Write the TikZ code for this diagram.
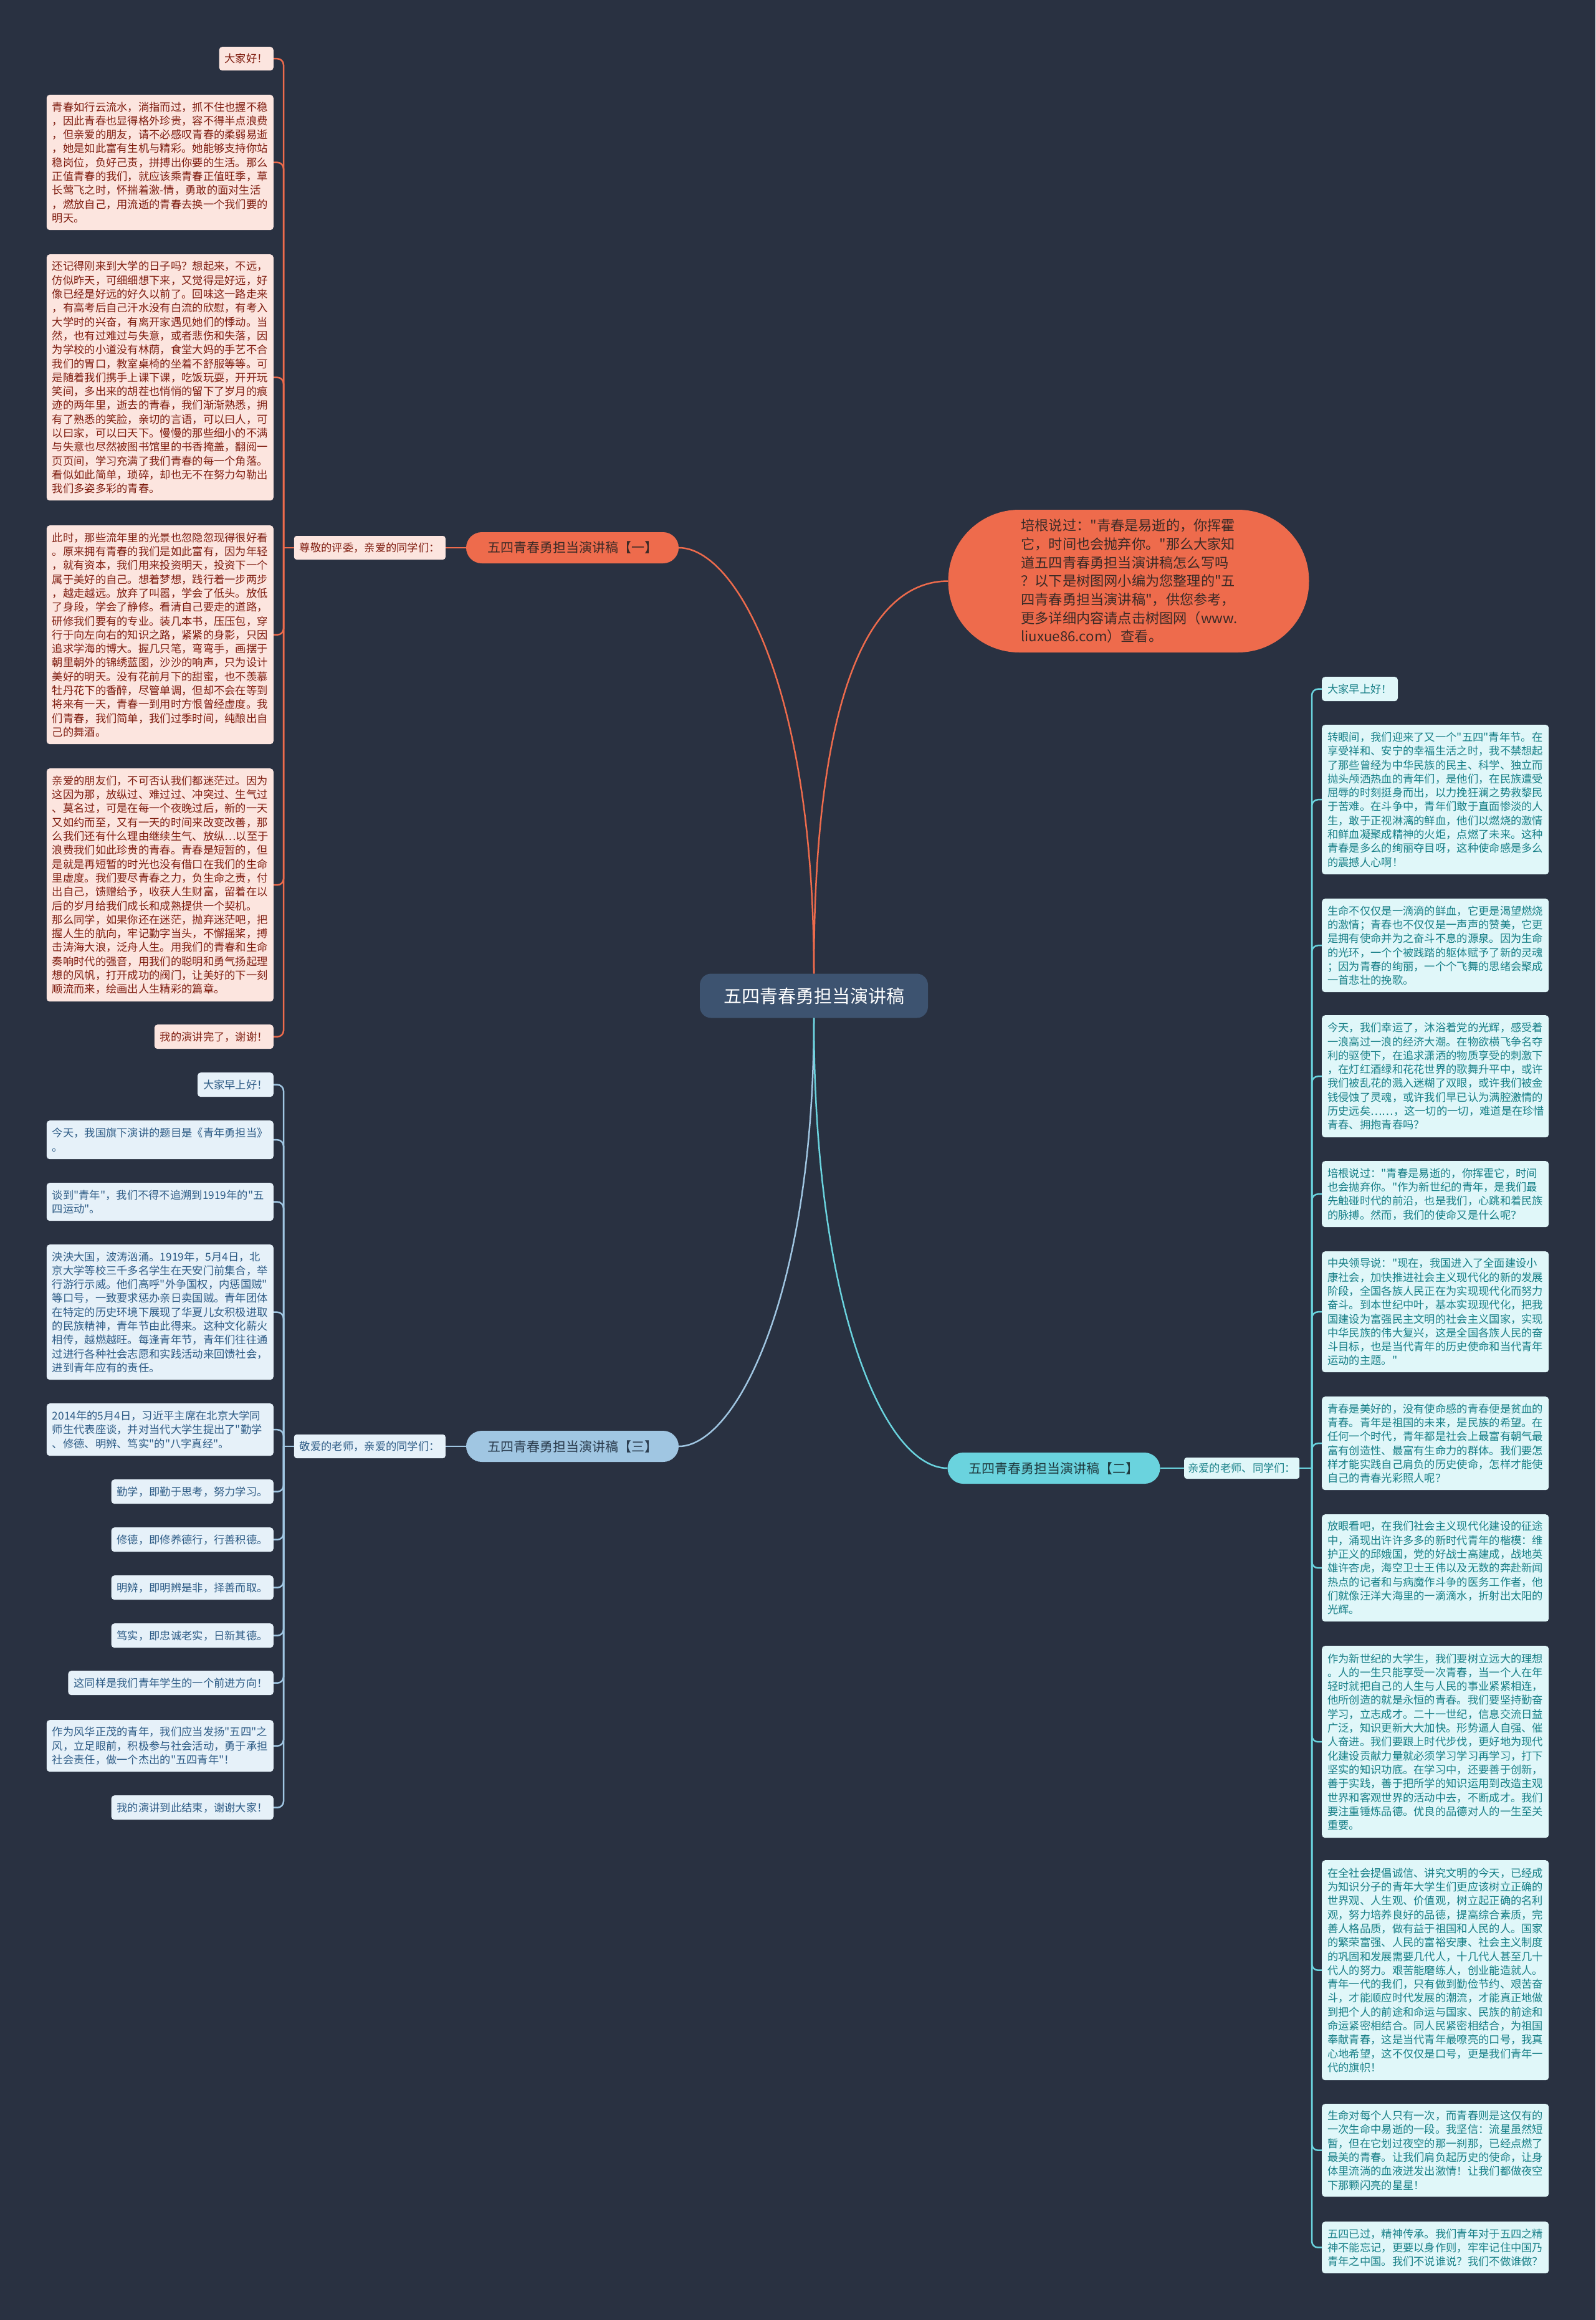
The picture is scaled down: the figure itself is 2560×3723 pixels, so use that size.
\documentclass[tikz,border=0pt]{standalone}
\usepackage{fontspec}
\newfontfamily\cjk{Noto Sans CJK SC}
\definecolor{bg}{HTML}{293141}
\definecolor{coral}{HTML}{EE6B4C}
\definecolor{coraltext}{HTML}{3B2A26}
\definecolor{pinkfill}{HTML}{FCE5DF}
\definecolor{pinktext}{HTML}{7F1D10}
\definecolor{bluebr}{HTML}{A0C6E2}
\definecolor{bluebrtext}{HTML}{2C3E50}
\definecolor{bluefill}{HTML}{E6F1F9}
\definecolor{bluetext}{HTML}{2E5C86}
\definecolor{cyanbr}{HTML}{6AD3DE}
\definecolor{cyanbrtext}{HTML}{1F3B40}
\definecolor{cyanfill}{HTML}{E0F7F9}
\definecolor{cyantext}{HTML}{177F87}
\definecolor{centerfill}{HTML}{3D5370}
\tikzset{
  basebox/.style={rounded corners=5pt, inner xsep=9pt, inner ysep=0pt, font=\cjk\fontsize{17.3}{22.3}\selectfont, align=left},
  lbox/.style={basebox, fill=pinkfill, text=pinktext},
  bbox/.style={basebox, fill=bluefill, text=bluetext},
  cbox/.style={basebox, fill=cyanfill, text=cyantext},
  widebox/.style={text width=346pt},
  branchnode/.style={rounded corners=25pt, minimum width=341pt, minimum height=50pt, inner sep=0pt, font=\cjk\fontsize{21}{25}\selectfont},
  lline/.style={draw=coral, line width=2.5pt},
  bline/.style={draw=bluebr, line width=2.5pt},
  cline/.style={draw=cyanbr, line width=2.5pt},
  elbow/.style={rounded corners=10pt}
}
\begin{document}
\begin{tikzpicture}[x=1pt,y=-1pt]
\fill[bg] (0,0) rectangle (2560,3723);
\useasboundingbox (0,0) rectangle (2560,3723);

% center
\node[fill=centerfill, text=white, rounded corners=18pt, minimum width=366pt, minimum height=71pt, inner sep=0pt, font=\cjk\fontsize{29}{34}\selectfont] (center) at (1306,1598) {五四青春勇担当演讲稿};

% bubble
\node[fill=coral, text=coraltext, rounded corners=114pt, minimum width=579pt, minimum height=229pt, inner sep=0pt, text width=345pt, align=left, font=\cjk\fontsize{22.2}{29.7}\selectfont] (bubble) at (1811,932.5) {培根说过："青春是易逝的，你挥霍\\它，时间也会抛弃你。"那么大家知\\道五四青春勇担当演讲稿怎么写吗\\？以下是树图网小编为您整理的"五\\四青春勇担当演讲稿"，供您参考，\\更多详细内容请点击树图网（www.\\liuxue86.com）查看。};

% ---------- branch 1 ----------
\node[branchnode, fill=coral, text=coraltext] (b1) at (918.5,879) {五四青春勇担当演讲稿【一】};
\node[lbox, anchor=east, minimum height=38pt, rounded corners=4pt] (lab1) at (715,879) {尊敬的评委，亲爱的同学们：};
\coordinate (s1) at (455,879);

\node[lbox, anchor=north east, minimum height=38pt] (c1a) at (439,75) {大家好！};
\node[lbox, widebox, anchor=north east, minimum height=217pt] (c1b) at (439,152) {青春如行云流水，淌指而过，抓不住也握不稳\\，因此青春也显得格外珍贵，容不得半点浪费\\，但亲爱的朋友，请不必感叹青春的柔弱易逝\\，她是如此富有生机与精彩。她能够支持你站\\稳岗位，负好己责，拼搏出你要的生活。那么\\正值青春的我们，就应该乘青春正值旺季，草\\长莺飞之时，怀揣着激-情，勇敢的面对生活\\，燃放自己，用流逝的青春去换一个我们要的\\明天。};
\node[lbox, widebox, anchor=north east, minimum height=395pt] (c1c) at (439,408) {还记得刚来到大学的日子吗？想起来，不远，\\仿似昨天，可细细想下来，又觉得是好远，好\\像已经是好远的好久以前了。回味这一路走来\\，有高考后自己汗水没有白流的欣慰，有考入\\大学时的兴奋，有离开家遇见她们的悸动。当\\然，也有过难过与失意，或者悲伤和失落，因\\为学校的小道没有林荫，食堂大妈的手艺不合\\我们的胃口，教室桌椅的坐着不舒服等等。可\\是随着我们携手上课下课，吃饭玩耍，开开玩\\笑间，多出来的胡茬也悄悄的留下了岁月的痕\\迹的两年里，逝去的青春，我们渐渐熟悉，拥\\有了熟悉的笑脸，亲切的言语，可以曰人，可\\以曰家，可以曰天下。慢慢的那些细小的不满\\与失意也尽然被图书馆里的书香掩盖，翻阅一\\页页间，学习充满了我们青春的每一个角落。\\看似如此简单，琐碎，却也无不在努力勾勒出\\我们多姿多彩的青春。};
\node[lbox, widebox, anchor=north east, minimum height=351pt] (c1d) at (439,843) {此时，那些流年里的光景也忽隐忽现得很好看\\。原来拥有青春的我们是如此富有，因为年轻\\，就有资本，我们用来投资明天，投资下一个\\属于美好的自己。想着梦想，践行着一步两步\\，越走越远。放弃了叫嚣，学会了低头。放低\\了身段，学会了静修。看清自己要走的道路，\\研修我们要有的专业。装几本书，压压包，穿\\行于向左向右的知识之路，紧紧的身影，只因\\追求学海的博大。握几只笔，弯弯手，画摆于\\朝里朝外的锦绣蓝图，沙沙的响声，只为设计\\美好的明天。没有花前月下的甜蜜，也不羡慕\\牡丹花下的香醉，尽管单调，但却不会在等到\\将来有一天，青春一到用时方恨曾经虚度。我\\们青春，我们简单，我们过季时间，纯酿出自\\己的舞酒。};
\node[lbox, widebox, anchor=north east, minimum height=374pt] (c1e) at (439,1233) {亲爱的朋友们，不可否认我们都迷茫过。因为\\这因为那，放纵过、难过过、冲突过、生气过\\、莫名过，可是在每一个夜晚过后，新的一天\\又如约而至，又有一天的时间来改变改善，那\\么我们还有什么理由继续生气、放纵…以至于\\浪费我们如此珍贵的青春。青春是短暂的，但\\是就是再短暂的时光也没有借口在我们的生命\\里虚度。我们要尽青春之力，负生命之责，付\\出自己，馈赠给予，收获人生财富，留着在以\\后的岁月给我们成长和成熟提供一个契机。\\那么同学，如果你还在迷茫，抛弃迷茫吧，把\\握人生的航向，牢记勤字当头，不懈摇桨，搏\\击涛海大浪，泛舟人生。用我们的青春和生命\\奏响时代的强音，用我们的聪明和勇气扬起理\\想的风帆，打开成功的阀门，让美好的下一刻\\顺流而来，绘画出人生精彩的篇章。};
\node[lbox, anchor=north east, minimum height=39pt] (c1f) at (439,1644) {我的演讲完了，谢谢！};

% ---------- branch 3 ----------
\node[branchnode, fill=bluebr, text=bluebrtext] (b3) at (918.5,2321) {五四青春勇担当演讲稿【三】};
\node[bbox, anchor=east, minimum height=38pt, rounded corners=4pt] (lab3) at (715,2321) {敬爱的老师，亲爱的同学们：};
\coordinate (s3) at (455,2321);

\node[bbox, anchor=north east, minimum height=39pt] (c3a) at (439,1721) {大家早上好！};
\node[bbox, widebox, anchor=north east, minimum height=62pt] (c3b) at (439,1798) {今天，我国旗下演讲的题目是《青年勇担当》\\。};
\node[bbox, widebox, anchor=north east, minimum height=61pt] (c3c) at (439,1898) {谈到"青年"，我们不得不追溯到1919年的"五\\四运动"。};
\node[bbox, widebox, anchor=north east, minimum height=217pt] (c3d) at (439,1997) {泱泱大国，波涛汹涌。1919年，5月4日，北\\京大学等校三千多名学生在天安门前集合，举\\行游行示威。他们高呼"外争国权，内惩国贼"\\等口号，一致要求惩办亲日卖国贼。青年团体\\在特定的历史环境下展现了华夏儿女积极进取\\的民族精神，青年节由此得来。这种文化薪火\\相传，越燃越旺。每逢青年节，青年们往往通\\过进行各种社会志愿和实践活动来回馈社会，\\进到青年应有的责任。};
\node[bbox, widebox, anchor=north east, minimum height=84pt] (c3e) at (439,2252) {2014年的5月4日，习近平主席在北京大学同\\师生代表座谈，并对当代大学生提出了"勤学\\、修德、明辨、笃实"的"八字真经"。};
\node[bbox, anchor=north east, minimum height=39pt] (c3f) at (439,2374) {勤学，即勤于思考，努力学习。};
\node[bbox, anchor=north east, minimum height=39pt] (c3g) at (439,2451) {修德，即修养德行，行善积德。};
\node[bbox, anchor=north east, minimum height=39pt] (c3h) at (439,2528) {明辨，即明辨是非，择善而取。};
\node[bbox, anchor=north east, minimum height=39pt] (c3i) at (439,2605) {笃实，即忠诚老实，日新其德。};
\node[bbox, anchor=north east, minimum height=39pt] (c3j) at (439,2681) {这同样是我们青年学生的一个前进方向！};
\node[bbox, widebox, anchor=north east, minimum height=83pt] (c3k) at (439,2760) {作为风华正茂的青年，我们应当发扬"五四"之\\风，立足眼前，积极参与社会活动，勇于承担\\社会责任，做一个杰出的"五四青年"！};
\node[bbox, anchor=north east, minimum height=39pt] (c3l) at (439,2881) {我的演讲到此结束，谢谢大家！};

% ---------- branch 2 ----------
\node[branchnode, fill=cyanbr, text=cyanbrtext] (b2) at (1691,2356) {五四青春勇担当演讲稿【二】};
\node[cbox, anchor=west, minimum height=34pt, rounded corners=4pt, inner xsep=6pt] (lab2) at (1900,2356) {亲爱的老师、同学们：};
\coordinate (s2) at (2105,2356);

\node[cbox, anchor=north west, minimum height=39pt] (c2a) at (2121,1086) {大家早上好！};
\node[cbox, widebox, anchor=north west, minimum height=240pt] (c2b) at (2121,1163) {转眼间，我们迎来了又一个"五四"青年节。在\\享受祥和、安宁的幸福生活之时，我不禁想起\\了那些曾经为中华民族的民主、科学、独立而\\抛头颅洒热血的青年们，是他们，在民族遭受\\屈辱的时刻挺身而出，以力挽狂澜之势救黎民\\于苦难。在斗争中，青年们敢于直面惨淡的人\\生，敢于正视淋漓的鲜血，他们以燃烧的激情\\和鲜血凝聚成精神的火炬，点燃了未来。这种\\青春是多么的绚丽夺目呀，这种使命感是多么\\的震撼人心啊！};
\node[cbox, widebox, anchor=north west, minimum height=150pt] (c2c) at (2121,1442) {生命不仅仅是一滴滴的鲜血，它更是渴望燃烧\\的激情；青春也不仅仅是一声声的赞美，它更\\是拥有使命并为之奋斗不息的源泉。因为生命\\的光环，一个个被践踏的躯体赋予了新的灵魂\\；因为青春的绚丽，一个个飞舞的思绪会聚成\\一首悲壮的挽歌。};
\node[cbox, widebox, anchor=north west, minimum height=196pt] (c2d) at (2121,1629) {今天，我们幸运了，沐浴着党的光辉，感受着\\一浪高过一浪的经济大潮。在物欲横飞争名夺\\利的驱使下，在追求潇洒的物质享受的刺激下\\，在灯红酒绿和花花世界的歌舞升平中，或许\\我们被乱花的溅入迷糊了双眼，或许我们被金\\钱侵蚀了灵魂，或许我们早已认为满腔激情的\\历史远矣……，这一切的一切，难道是在珍惜\\青春、拥抱青春吗？};
\node[cbox, widebox, anchor=north west, minimum height=106pt] (c2e) at (2121,1863) {培根说过："青春是易逝的，你挥霍它，时间\\也会抛弃你。"作为新世纪的青年，是我们最\\先触碰时代的前沿，也是我们，心跳和着民族\\的脉搏。然而，我们的使命又是什么呢？};
\node[cbox, widebox, anchor=north west, minimum height=194pt] (c2f) at (2121,2008) {中央领导说："现在，我国进入了全面建设小\\康社会，加快推进社会主义现代化的新的发展\\阶段，全国各族人民正在为实现现代化而努力\\奋斗。到本世纪中叶，基本实现现代化，把我\\国建设为富强民主文明的社会主义国家，实现\\中华民族的伟大复兴，这是全国各族人民的奋\\斗目标，也是当代青年的历史使命和当代青年\\运动的主题。"};
\node[cbox, widebox, anchor=north west, minimum height=150pt] (c2g) at (2121,2241) {青春是美好的，没有使命感的青春便是贫血的\\青春。青年是祖国的未来，是民族的希望。在\\任何一个时代，青年都是社会上最富有朝气最\\富有创造性、最富有生命力的群体。我们要怎\\样才能实践自己肩负的历史使命，怎样才能使\\自己的青春光彩照人呢？};
\node[cbox, widebox, anchor=north west, minimum height=172pt] (c2h) at (2121,2430) {放眼看吧，在我们社会主义现代化建设的征途\\中，涌现出许许多多的新时代青年的楷模：维\\护正义的邱娥国，党的好战士高建成，战地英\\雄许杏虎，海空卫士王伟以及无数的奔赴新闻\\热点的记者和与病魔作斗争的医务工作者，他\\们就像汪洋大海里的一滴滴水，折射出太阳的\\光辉。};
\node[cbox, widebox, anchor=north west, minimum height=308pt] (c2i) at (2121,2641) {作为新世纪的大学生，我们要树立远大的理想\\。人的一生只能享受一次青春，当一个人在年\\轻时就把自己的人生与人民的事业紧紧相连，\\他所创造的就是永恒的青春。我们要坚持勤奋\\学习，立志成才。二十一世纪，信息交流日益\\广泛，知识更新大大加快。形势逼人自强、催\\人奋进。我们要跟上时代步伐，更好地为现代\\化建设贡献力量就必须学习学习再学习，打下\\坚实的知识功底。在学习中，还要善于创新，\\善于实践，善于把所学的知识运用到改造主观\\世界和客观世界的活动中去，不断成才。我们\\要注重锤炼品德。优良的品德对人的一生至关\\重要。};
\node[cbox, widebox, anchor=north west, minimum height=353pt] (c2j) at (2121,2985) {在全社会提倡诚信、讲究文明的今天，已经成\\为知识分子的青年大学生们更应该树立正确的\\世界观、人生观、价值观，树立起正确的名利\\观，努力培养良好的品德，提高综合素质，完\\善人格品质，做有益于祖国和人民的人。国家\\的繁荣富强、人民的富裕安康、社会主义制度\\的巩固和发展需要几代人，十几代人甚至几十\\代人的努力。艰苦能磨练人，创业能造就人。\\青年一代的我们，只有做到勤俭节约、艰苦奋\\斗，才能顺应时代发展的潮流，才能真正地做\\到把个人的前途和命运与国家、民族的前途和\\命运紧密相结合。同人民紧密相结合，为祖国\\奉献青春，这是当代青年最嘹亮的口号，我真\\心地希望，这不仅仅是口号，更是我们青年一\\代的旗帜！};
\node[cbox, widebox, anchor=north west, minimum height=149pt] (c2k) at (2121,3376) {生命对每个人只有一次，而青春则是这仅有的\\一次生命中易逝的一段。我坚信：流星虽然短\\暂，但在它划过夜空的那一刹那，已经点燃了\\最美的青春。让我们肩负起历史的使命，让身\\体里流淌的血液迸发出激情！让我们都做夜空\\下那颗闪亮的星星！};
\node[cbox, widebox, anchor=north west, minimum height=83pt] (c2l) at (2121,3565) {五四已过，精神传承。我们青年对于五四之精\\神不能忘记，更要以身作则，牢牢记住中国乃\\青年之中国。我们不说谁说？我们不做谁做？};

% ---------- connectors ----------
\draw[lline] (center.north) .. controls (1306,1100) and (1180,879) .. (b1.east);
\draw[lline] (center.north) .. controls (1306,1100) and (1400,932.5) .. (bubble.west);
\draw[bline] (center.south) .. controls (1306,2080) and (1180,2321) .. (b3.east);
\draw[cline] (center.south) .. controls (1306,2100) and (1420,2356) .. (b2.west);

\draw[lline] (b1.west) -- (lab1.east);
\draw[lline] (lab1.west) -- (s1);
\foreach \n in {c1a,c1b,c1c,c1d,c1e,c1f} \draw[lline, elbow] (s1) |- (\n.east);

\draw[bline] (b3.west) -- (lab3.east);
\draw[bline] (lab3.west) -- (s3);
\foreach \n in {c3a,c3b,c3c,c3d,c3e,c3f,c3g,c3h,c3i,c3j,c3k,c3l} \draw[bline, elbow] (s3) |- (\n.east);

\draw[cline] (b2.east) -- (lab2.west);
\draw[cline] (lab2.east) -- (s2);
\foreach \n in {c2a,c2b,c2c,c2d,c2e,c2f,c2g,c2h,c2i,c2j,c2k,c2l} \draw[cline, elbow] (s2) |- (\n.west);
\end{tikzpicture}
\end{document}
